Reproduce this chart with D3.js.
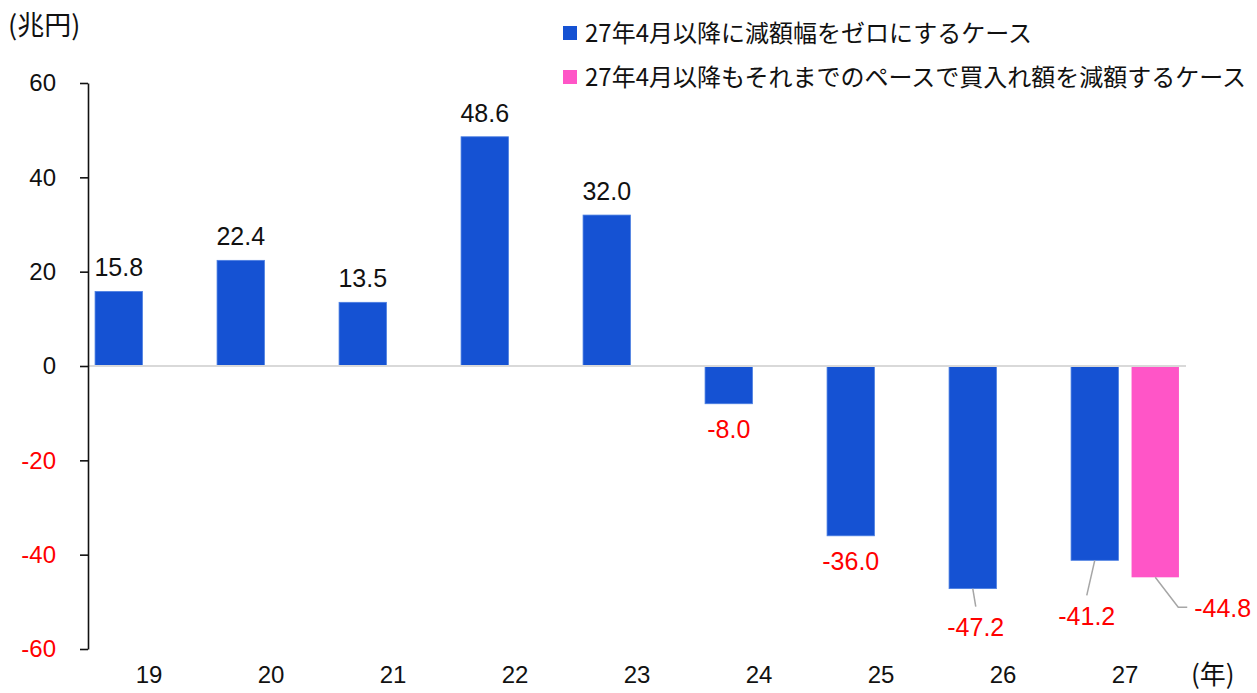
<!DOCTYPE html>
<html><head><meta charset="utf-8">
<script src="https://cdn.jsdelivr.net/npm/d3@7/dist/d3.min.js"></script>
<style>
html,body{margin:0;padding:0;background:#fff;}
svg{display:block;}
</style></head>
<body>
<svg id="chart" width="1257" height="693"></svg>
<script>
// ---- data ----
const categories = ["19","20","21","22","23","24","25","26","27"];
const seriesNames = ["27年4月以降に減額幅をゼロにするケース", "27年4月以降もそれまでのペースで買入れ額を減額するケース"];
const seriesZero = [15.8, 22.4, 13.5, 48.6, 32.0, -8.0, -36.0, -47.2, -41.2];
const seriesPace = [null, null, null, null, null, null, null, null, -44.8];
const yTicks = [-60, -40, -20, 0, 20, 40, 60];
const yUnit = "(兆円)";
const xUnit = "(年)";

// ---- layout / style ----
const colors = ["#1552D3", "#FF55C7"];
const numFont = "'Liberation Sans', Arial, sans-serif";
const jpFont = "'Noto Sans CJK JP', 'Noto Sans', sans-serif";
// manual label placement (px) for crowded labels
const labelNudge = {
  "26-0": {dx: 3, dy: 47, leader: [[0,0],[3,18]]},
  "27-0": {dx: -8, dy: 65, leader: [[0,0],[-8,35]]},
  "27-1": {dx: 39, dy: 40, anchor: "start", leader: [[0,0],[23,30],[32,30]]}
};
const hyphen = s => s.replace("\u2212", "-");
const fmt1 = v => hyphen(d3.format(".1f")(v));
const fmt0 = v => hyphen(d3.format("d")(v));

const svg = d3.select("#chart");
const x0 = d3.scaleBand().domain(categories).range([88, 1186]).paddingInner(0).paddingOuter(0);
const x1 = d3.scaleBand().domain([0,1]).range([0, x0.bandwidth()]).paddingInner(0.2167).paddingOuter(0.1167);
const y = d3.scaleLinear().domain([-60, 60]).range([649, 83]);

// bars
const rows = [];
categories.forEach((c, i) => {
  [seriesZero, seriesPace].forEach((s, k) => {
    if (s[i] !== null && s[i] !== undefined) rows.push({c, k, v: s[i]});
  });
});

const bars = svg.append("g");
bars.selectAll("rect").data(rows).join("rect")
  .attr("x", d => x0(d.c) + x1(d.k))
  .attr("width", x1.bandwidth())
  .attr("y", d => y(Math.max(0, d.v)))
  .attr("height", d => Math.abs(y(d.v) - y(0)))
  .attr("fill", d => colors[d.k])
  .attr("stroke", d => d.k === 0 ? "#4c7fe2" : "none")
  .attr("stroke-width", 0.8);

// zero line
svg.append("line")
  .attr("x1", 88).attr("x2", x0.range()[1])
  .attr("y1", y(0)).attr("y2", y(0))
  .attr("stroke", "#d9d9d9").attr("stroke-width", 2);

// y axis
const yAxis = svg.append("g").attr("transform", "translate(88,0)")
  .call(d3.axisLeft(y).tickValues(yTicks).tickSize(8).tickSizeOuter(0).tickPadding(24).tickFormat(fmt0));
yAxis.select(".domain").attr("stroke", "#111").attr("stroke-width", 1.6);
yAxis.selectAll(".tick line").attr("stroke", "#111").attr("stroke-width", 1.6);
yAxis.selectAll(".tick text")
  .attr("font-family", numFont).attr("font-size", 24)
  .attr("fill", d => d < 0 ? "#ff0000" : "#111");

// x axis labels
const xAxis = svg.append("g").attr("transform", `translate(0,${666})`)
  .call(d3.axisBottom(x0).tickSize(0).tickPadding(0));
xAxis.select(".domain").remove();
xAxis.selectAll(".tick text")
  .attr("font-family", numFont).attr("font-size", 24).attr("fill", "#111")
  .attr("dy", "0.71em");

// data labels
const lbl = svg.append("g");
rows.forEach(d => {
  const cx = x0(d.c) + x1(d.k) + x1.bandwidth() / 2;
  const yEnd = y(d.v);
  const key = d.c + "-" + d.k;
  const nudge = labelNudge[key];
  let tx = cx, ty, anchor = "middle";
  if (nudge) {
    tx = cx + nudge.dx; ty = yEnd + nudge.dy; if (nudge.anchor) anchor = nudge.anchor;
    lbl.append("path")
      .attr("d", d3.line()(nudge.leader.map(p => [cx + p[0], yEnd + p[1]])))
      .attr("fill", "none").attr("stroke", "#a6a6a6").attr("stroke-width", 1.5);
  } else {
    ty = d.v >= 0 ? yEnd - 15 : yEnd + 34;
  }
  lbl.append("text")
    .attr("x", tx).attr("y", ty)
    .attr("text-anchor", anchor)
    .attr("font-family", numFont).attr("font-size", 25)
    .attr("fill", d.v < 0 ? "#ff0000" : "#111")
    .text(fmt1(d.v));
});

// units
svg.append("text").attr("x", 8).attr("y", 35)
  .attr("font-family", jpFont).attr("font-size", 27).attr("fill", "#111").text(yUnit);
svg.append("text").attr("x", 1191).attr("y", 684)
  .attr("font-family", jpFont).attr("font-size", 26).attr("fill", "#111").text(xUnit);

// legend
const leg = svg.append("g");
seriesNames.forEach((n, k) => {
  const cy = 33 + k * 44;
  leg.append("rect").attr("x", 563).attr("y", cy - 7).attr("width", 14).attr("height", 14).attr("fill", colors[k]);
  leg.append("text").attr("x", 585).attr("y", cy).attr("dy", "0.36em")
    .attr("font-family", jpFont).attr("font-size", 24).attr("fill", "#111").text(n);
});
</script>
</body></html>
